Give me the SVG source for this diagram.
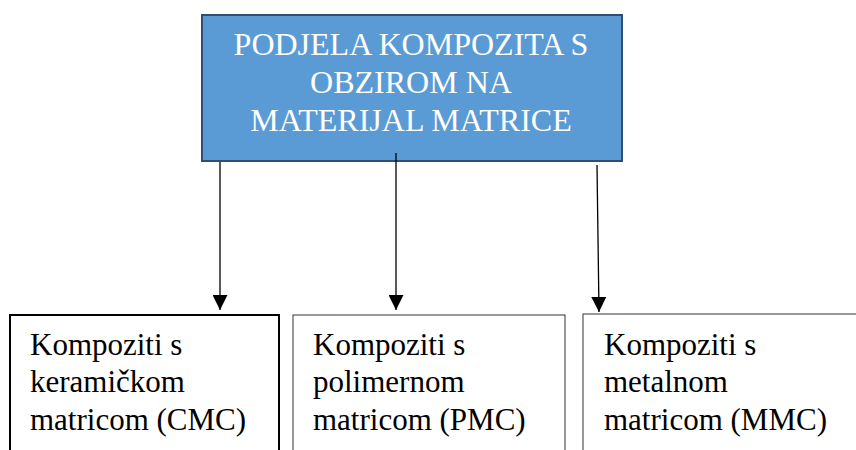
<svg xmlns="http://www.w3.org/2000/svg" width="856" height="450" viewBox="0 0 856 450">
<style>
text{font-family:'Liberation Serif','Times New Roman',serif;font-size:31px}
.t{fill:#000}
.h{fill:#fff;text-anchor:middle;font-size:32px}
.c{stroke:#000;stroke-width:1.3;fill:none}
</style>
<defs>
<marker id="ar" viewBox="0 0 10 10" refX="10" refY="5" markerWidth="15" markerHeight="15" markerUnits="userSpaceOnUse" orient="auto">
<path d="M0,0 L10,5 L0,10 z" fill="#000"/>
</marker>
</defs>
<rect width="856" height="450" fill="#fff"/>
<g id="top">
<rect x="202" y="15" width="420" height="146" fill="#5b9bd5" stroke="#2f4f70" stroke-width="2"/>
<text class="h" x="411" y="55">PODJELA KOMPOZITA S</text>
<text class="h" x="411" y="93">OBZIROM NA</text>
<text class="h" x="411" y="131">MATERIJAL MATRICE</text>
</g>
<g id="connectors">
<line class="c" x1="220" y1="162" x2="220" y2="310" marker-end="url(#ar)"/>
<line class="c" x1="396" y1="153" x2="396" y2="310" marker-end="url(#ar)"/>
<line class="c" x1="597" y1="165" x2="599" y2="312" marker-end="url(#ar)"/>
</g>
<g id="cmc">
<rect x="10" y="315" width="269" height="150" fill="#fff" stroke="#000" stroke-width="2"/>
<text class="t" x="30" y="355">Kompoziti s</text>
<text class="t" x="30" y="392">keramičkom</text>
<text class="t" x="30" y="430">matricom (CMC)</text>
</g>
<g id="pmc">
<rect x="293" y="315" width="272" height="150" fill="#fff" stroke="#333" stroke-width="1"/>
<text class="t" x="313" y="355">Kompoziti s</text>
<text class="t" x="313" y="392">polimernom</text>
<text class="t" x="313" y="430">matricom (PMC)</text>
</g>
<g id="mmc">
<rect x="583" y="314" width="290" height="150" fill="#fff" stroke="#333" stroke-width="1"/>
<text class="t" x="604" y="355">Kompoziti s</text>
<text class="t" x="604" y="392">metalnom</text>
<text class="t" x="604" y="430">matricom (MMC)</text>
</g>
</svg>
